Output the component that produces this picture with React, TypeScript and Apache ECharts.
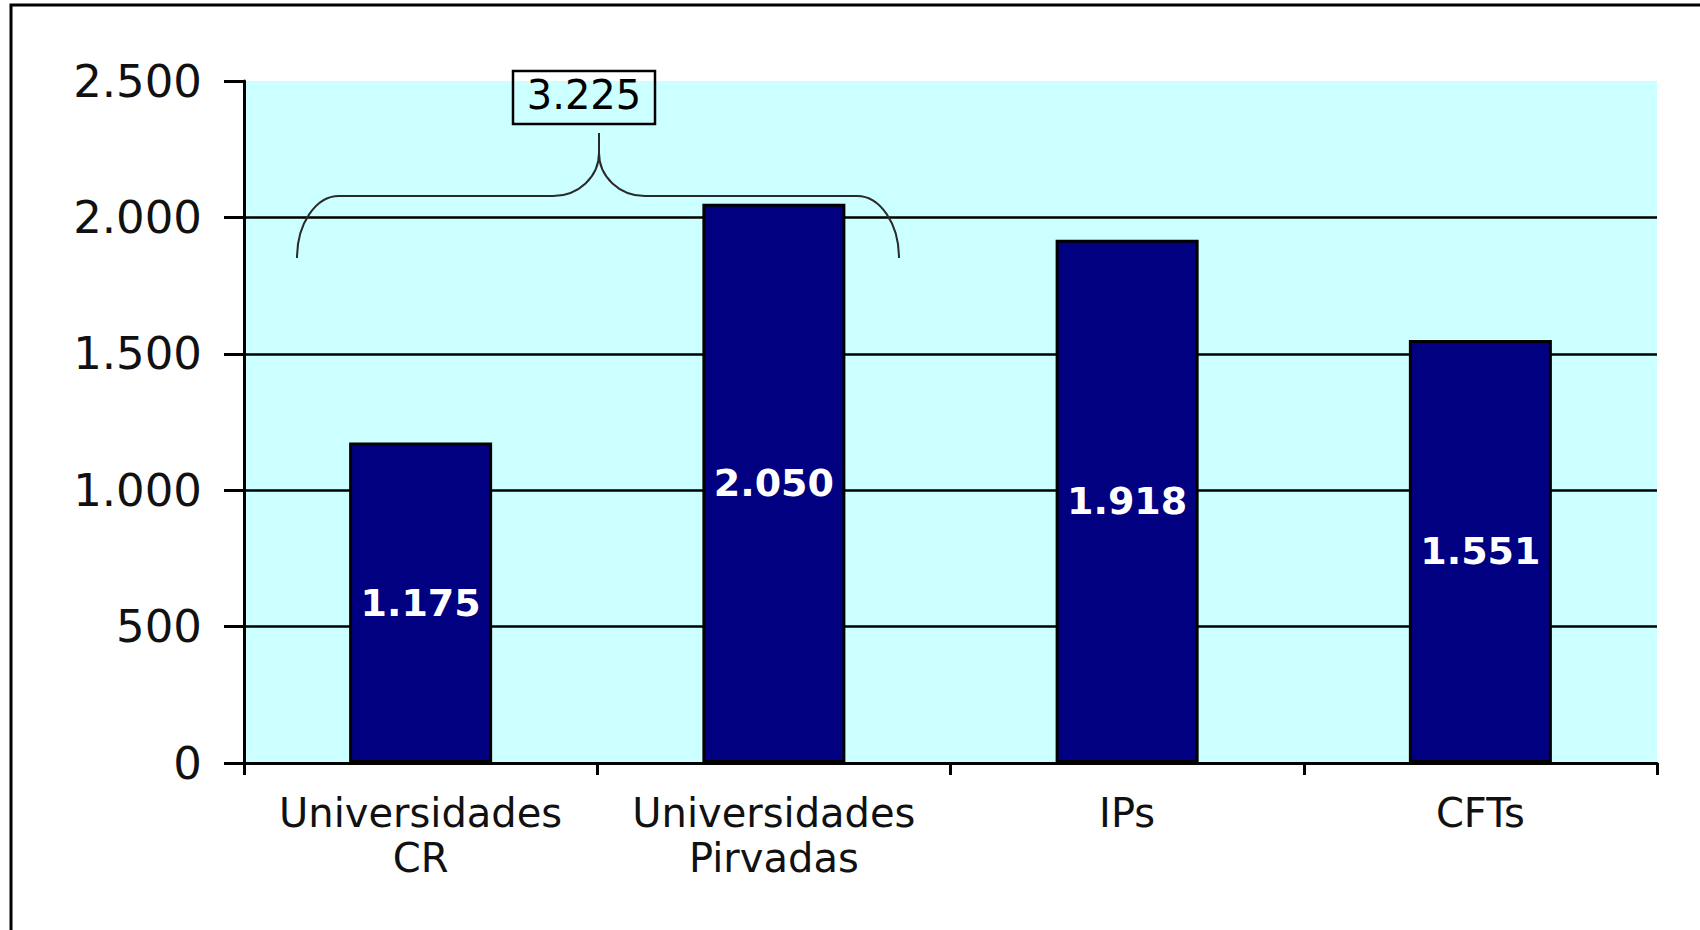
import React, { useEffect, useRef } from "react";
import * as echarts from "echarts";

const categories = ["Universidades\nCR", "Universidades\nPirvadas", "IPs", "CFTs"];
const values = [1175, 2050, 1918, 1551];
const yTicks = [0, 500, 1000, 1500, 2000, 2500];
const bracedGroup = [0, 1];

const fmt = (n: number) => String(n).replace(/\B(?=(\d{3})+(?!\d))/g, ".");

const braceD =
  "M 297 258 A 42 62 0 0 1 339 196 L 553 196 A 46 43 0 0 0 599 153 L 599 133 " +
  "M 599 153 A 46 43 0 0 0 645 196 L 857 196 A 42 62 0 0 1 899 258";

echarts.graphic.registerShape("brace", echarts.graphic.extendPath(braceD, {}));

const FONT = "DejaVu Sans";

export default function App() {
  const ref = useRef<HTMLDivElement>(null);

  useEffect(() => {
    if (!ref.current) return;
    const chart = echarts.init(ref.current, undefined, { renderer: "svg" });
    const total = bracedGroup.reduce((s, i) => s + values[i], 0);
    chart.setOption({
      animation: false,
      backgroundColor: "#ffffff",
      grid: {
        left: 244,
        right: 43,
        top: 81,
        bottom: 167,
        show: true,
        backgroundColor: "#CCFFFF",
        borderWidth: 0,
      },
      xAxis: {
        type: "category",
        data: categories,
        axisLine: { show: true, lineStyle: { color: "#000", width: 3 } },
        axisTick: { show: true, length: 12, lineStyle: { color: "#000", width: 3 } },
        axisLabel: {
          interval: 0,
          fontSize: 40,
          lineHeight: 45,
          fontFamily: FONT,
          color: "#111",
          margin: 27,
        },
        splitLine: { show: false },
      },
      yAxis: {
        type: "value",
        min: yTicks[0],
        max: yTicks[yTicks.length - 1],
        interval: yTicks[1] - yTicks[0],
        axisLine: { show: true, lineStyle: { color: "#000", width: 3 } },
        axisTick: { show: true, length: 20, lineStyle: { color: "#000", width: 3 } },
        axisLabel: {
          fontSize: 45,
          fontFamily: FONT,
          color: "#111",
          margin: 42,
          formatter: (v: number) => fmt(v),
        },
        splitLine: {
          show: true,
          showMaxLine: false,
          showMinLine: false,
          lineStyle: { color: "#000", width: 2.5 },
        },
      },
      series: [
        {
          type: "bar",
          data: values,
          barWidth: 143,
          itemStyle: { color: "#000080", borderColor: "#000", borderWidth: 3 },
          label: {
            show: true,
            position: "inside",
            color: "#fff",
            fontWeight: "bold",
            fontSize: 38,
            fontFamily: FONT,
            formatter: (p: any) => fmt(p.value),
          },
        },
      ],
      graphic: [
        {
          type: "polyline",
          shape: { points: [[11, 935], [11, 5], [1705, 5]] },
          style: { stroke: "#000", lineWidth: 3, fill: "none" },
          z: 100,
        },
        {
          type: "brace",
          x: 0,
          y: 0,
          style: { stroke: "#2a2a2a", lineWidth: 2, fill: "none" },
          z: 100,
        },
        {
          type: "rect",
          shape: { x: 513, y: 71, width: 142, height: 53 },
          style: { stroke: "#000", lineWidth: 2.5, fill: "none" },
          z: 100,
        },
        {
          type: "text",
          x: 584,
          y: 95,
          style: {
            text: fmt(total),
            fontSize: 40,
            fontFamily: FONT,
            fill: "#000",
            align: "center",
            verticalAlign: "middle",
          },
          z: 100,
        },
      ],
    });
    return () => chart.dispose();
  }, []);

  return (
    <div
      ref={ref}
      style={{ position: "absolute", left: 0, top: 0, width: 1700, height: 930 }}
    />
  );
}
